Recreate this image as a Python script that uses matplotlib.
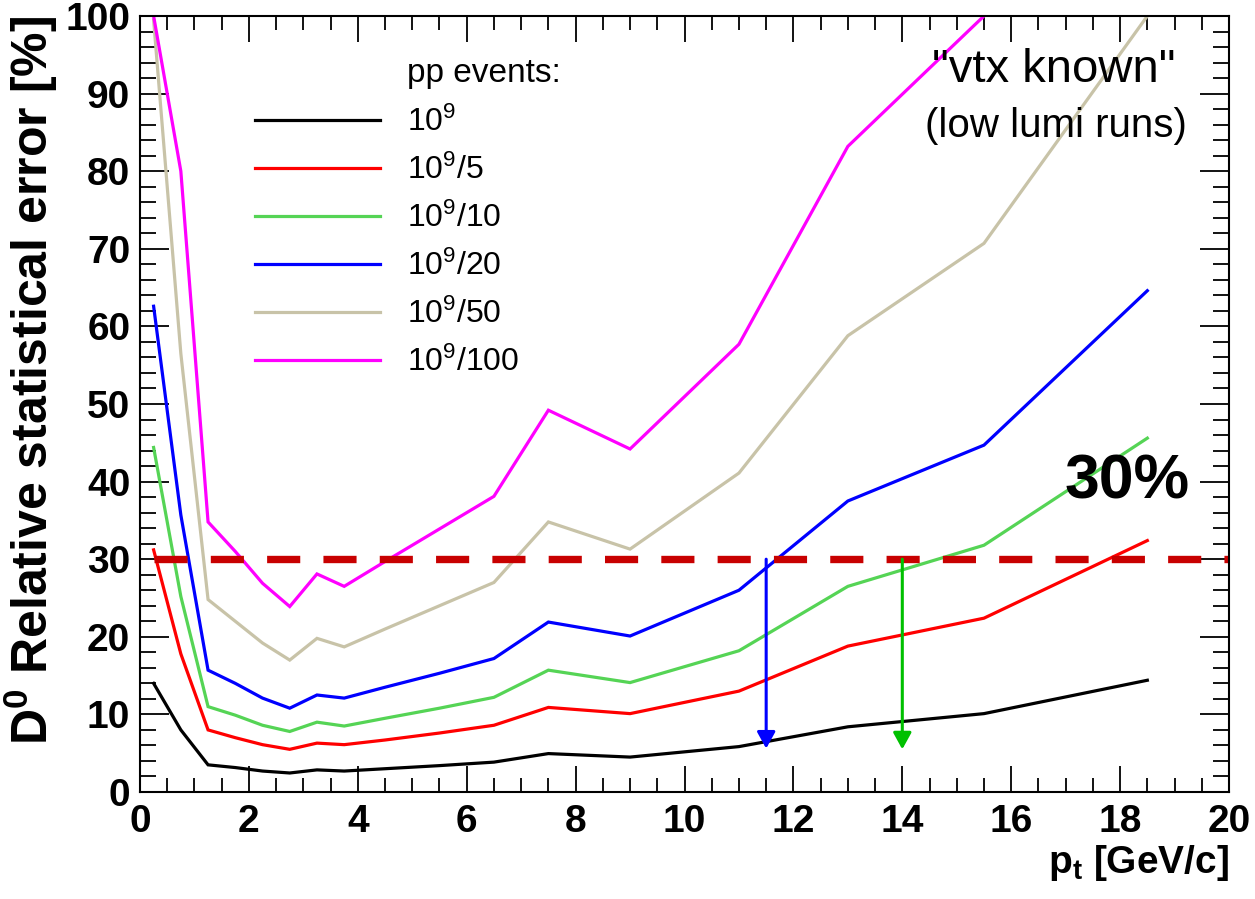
import numpy as np
import matplotlib
matplotlib.use("Agg")
import matplotlib.pyplot as plt
from matplotlib.ticker import MultipleLocator

plt.rcParams['font.family'] = ['Liberation Sans', 'DejaVu Sans']
plt.rcParams['mathtext.fontset'] = 'custom'
plt.rcParams['mathtext.rm'] = 'Liberation Sans'
plt.rcParams['mathtext.bf'] = 'Liberation Sans:bold'
plt.rcParams['mathtext.default'] = 'regular'

# pt bin centres [GeV/c]
pt = [0.25, 0.75, 1.25, 1.75, 2.25, 2.75, 3.25, 3.75, 4.5, 5.5, 6.5, 7.5, 9.0, 11.0, 13.0, 15.5, 18.5]

# relative statistical error [%] for each statistics scenario
err_1e9 = [14.0, 8.0, 3.5, 3.15, 2.7, 2.45, 2.85, 2.7, 3.0, 3.4, 3.85, 4.95, 4.5, 5.85, 8.4, 10.1, 14.4]
err_1e9_5 = [31.2, 17.8, 8.0, 7.0, 6.1, 5.5, 6.3, 6.1, 6.7, 7.6, 8.6, 10.9, 10.1, 13.0, 18.8, 22.4, 32.4]
err_1e9_10 = [44.4, 25.2, 11.0, 9.9, 8.6, 7.8, 9.0, 8.5, 9.5, 10.8, 12.2, 15.7, 14.1, 18.2, 26.5, 31.8, 45.6]
err_1e9_20 = [62.6, 35.7, 15.7, 14.0, 12.1, 10.8, 12.5, 12.1, 13.5, 15.3, 17.2, 21.9, 20.1, 26.0, 37.5, 44.7, 64.6]
err_1e9_50 = [99.5, 56.5, 24.8, 22.0, 19.2, 17.0, 19.8, 18.7, 21.0, 24.0, 27.0, 34.8, 31.3, 41.1, 58.8, 70.7, 100.0]
err_1e9_100 = [100.0, 80.0, 34.8, 31.0, 26.9, 23.9, 28.1, 26.5, 29.7, 33.9, 38.1, 49.2, 44.2, 57.7, 83.2, 100.0, np.nan]

series = [err_1e9, err_1e9_5, err_1e9_10, err_1e9_20, err_1e9_50, err_1e9_100]
labels = [r'10$^{9}$', r'10$^{9}$/5', r'10$^{9}$/10', r'10$^{9}$/20', r'10$^{9}$/50', r'10$^{9}$/100']
colors = ['#000000', '#ff0000', '#55d455', '#0000ff', '#c8c3a8', '#ff00ff']

threshold = 30.0
# pt where the 10^9/20 and 10^9/10 curves reach the threshold
arrow_pt = [11.5, 14.0]
arrow_end = [5.6, 5.5]
arrow_colors = ['#0000ff', '#00c000']

fig = plt.figure(figsize=(12.55, 8.99), dpi=100)
ax = fig.add_axes([140 / 1255, 107 / 899, 1089 / 1255, 776 / 899])

handles = []
for y, lab, c in zip(series, labels, colors):
    h, = ax.plot(pt, y, color=c, lw=2.3, label=lab, solid_joinstyle='miter')
    handles.append(h)

ax.hlines(threshold, pt[0], 20, colors='#c80000', linewidth=5.3,
          linestyles=(0, (4.5, 3.15)), capstyle='butt')

for x, ye, c in zip(arrow_pt, arrow_end, arrow_colors):
    ax.annotate('', xy=(x, ye), xytext=(x, threshold),
                arrowprops=dict(arrowstyle='-|>,head_length=1.0,head_width=0.55',
                                color=c, lw=2.2, shrinkA=0, shrinkB=0,
                                mutation_scale=10))

ax.set_xlim(0, 20)
ax.set_ylim(0, 100)
ax.xaxis.set_major_locator(MultipleLocator(2))
ax.xaxis.set_minor_locator(MultipleLocator(0.5))
ax.yaxis.set_major_locator(MultipleLocator(10))
ax.yaxis.set_minor_locator(MultipleLocator(2))

for s in ax.spines.values():
    s.set_linewidth(1.5)
ax.tick_params(which='both', direction='in', top=True, right=True, width=1.3)
ax.xaxis.set_tick_params(which='major', length=19, pad=9)
ax.xaxis.set_tick_params(which='minor', length=10)
ax.yaxis.set_tick_params(which='major', length=21, pad=7)
ax.yaxis.set_tick_params(which='minor', length=11.5)
for lab in ax.get_xticklabels() + ax.get_yticklabels():
    lab.set_fontsize(28)
    lab.set_fontweight('bold')

ax.set_xlabel(r'p$_{\mathbf{t}}$ [GeV/c]', fontsize=28, fontweight='bold', loc='right', labelpad=2)
ax.set_ylabel(r'D$^{\mathbf{0}}$ Relative statistical error [%]', fontsize=36,
              fontweight='bold', loc='top', labelpad=4)

ax.text(4.9, 92.6, 'pp events:', fontsize=24, ha='left', va='center')
ax.legend(handles=handles, loc='center left', bbox_to_anchor=(0.1056, 0.708),
          frameon=False, fontsize=23, handlelength=3.9, handletextpad=0.85,
          labelspacing=0.52, borderpad=0, borderaxespad=0)

ax.text(16.79, 93.0, '"vtx known"', fontsize=34, ha='center', va='center')
ax.text(16.82, 85.8, '(low lumi runs)', fontsize=29, ha='center', va='center')
ax.text(18.13, 40.0, '30%', fontsize=45, fontweight='bold', ha='center', va='center')

fig.savefig('out.png', dpi=100)
